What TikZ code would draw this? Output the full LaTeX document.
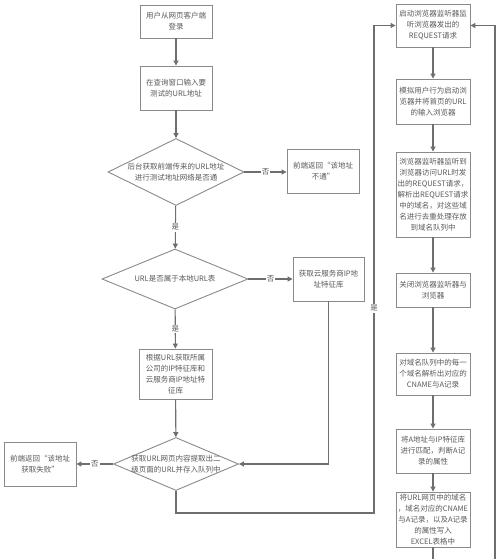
\documentclass[tikz,border=0pt]{standalone}
\usepackage{fontspec}
\setmainfont{Noto Sans CJK SC}
\usetikzlibrary{shapes.geometric,arrows.meta}
\definecolor{linec}{HTML}{6E6E6E}
\definecolor{boxc}{HTML}{8A8A8A}
\definecolor{txtc}{HTML}{5A5A5A}
\begin{document}
\begin{tikzpicture}[x=1pt,y=-1pt,
  every node/.style={font=\fontsize{7.5pt}{11pt}\selectfont, text=txtc},
  box/.style={draw=boxc, line width=0.9pt, rectangle, align=center, inner sep=1pt},
  dia/.style={draw=boxc, line width=0.9pt, diamond, inner sep=0pt},
  txt/.style={align=center, inner sep=0pt},
  lab/.style={fill=white, inner sep=1pt},
  conn/.style={draw=linec, line width=1.1pt},
  arr/.style={conn, -{Triangle[width=5pt,length=5pt]}}
]
\useasboundingbox[fill=white] (0,0) rectangle (500,559);
% left column
\node[box, minimum width=72pt, minimum height=33pt] (A) at (176,21.5) {用户从网页客户端\\登录};
\node[box, minimum width=72pt, minimum height=44pt] (B) at (176,88) {在查询窗口输入要\\测试的URL地址};
\node[dia, minimum width=136pt, minimum height=67pt] (D1) at (176,172) {};
\node[txt] (T1) at (D1) {后台获取前端传来的URL地址\\进行测试地址网络是否通};
\node[box, minimum width=72pt, minimum height=44pt] (C) at (323,171) {前端返回“该地址\\不通”};
\node[dia, minimum width=146pt, minimum height=60pt] (D2) at (175,279) {};
\node[txt] (T2) at (D2) {URL是否属于本地URL表};
\node[box, minimum width=71pt, minimum height=44pt] (D) at (328.5,279) {获取云服务商IP地\\址特征库};
\node[box, minimum width=73pt, minimum height=50pt] (E) at (175.5,374) {根据URL获取所属\\公司的IP特征库和\\云服务商IP地址特\\征库};
\node[dia, minimum width=125pt, minimum height=53pt] (D3) at (176,464) {};
\node[txt] (T3) at (D3) {获取URL网页内容提取出二\\级页面的URL并存入队列中};
\node[box, minimum width=72pt, minimum height=44pt] (F) at (40,464) {前端返回“该地址\\获取失败”};
% right column
\node[box, minimum width=74pt, minimum height=43pt] (R1) at (433,25.5) {启动浏览器监听器监\\听浏览器发出的\\REQUEST请求};
\node[box, minimum width=74pt, minimum height=45pt] (R2) at (433,101.5) {模拟用户行为启动浏\\览器并将首页的URL\\的输入浏览器};
\node[box, minimum width=74pt, minimum height=85pt] (R3) at (433,194.5) {浏览器监听器监听到\\浏览器访问URL时发\\出的REQUEST请求，\\解析出REQUEST请求\\中的域名，对这些域\\名进行去重处理存放\\到域名队列中};
\node[box, minimum width=74pt, minimum height=34pt] (R4) at (433,290) {关闭浏览器监听器与\\浏览器};
\node[box, minimum width=74pt, minimum height=42pt] (R5) at (433,374) {对域名队列中的每一\\个域名解析出对应的\\CNAME与A记录};
\node[box, minimum width=74pt, minimum height=44pt] (R6) at (433,451) {将A地址与IP特征库\\进行匹配，判断A记\\录的属性};
\node[box, minimum width=74pt, minimum height=55pt] (R7) at (433,519.5) {将URL网页中的域名\\，域名对应的CNAME\\与A记录，以及A记录\\的属性写入\\EXCEL表格中};
\coordinate (b1) at (176,513);
\coordinate (b2) at (374,513);
\coordinate (b3) at (374,25.5);
\coordinate (c1) at (433,575);
\coordinate (c2) at (495,575);
\coordinate (c3) at (495,25.5);
% connectors
\draw[arr] (A) -- (B);
\draw[arr] (B) -- (D1);
\draw[arr] (D1.east) -- node[lab]{否} (C.west |- D1.east);
\draw[arr] (D1) -- node[lab, pos=0.5]{是} (D2);
\draw[arr] (D2.east) -- node[lab]{否} (D.west);
\draw[arr] (D2) -- node[lab]{是} (E);
\draw[arr] (E) -- (D3);
\draw[arr] (D.south) |- (D3.east);
\draw[arr] (D3.west) -- node[lab]{否} (F.east);
\draw[arr] (D3.south) -- (b1) -- (b2) -- node[lab, pos=0.42]{是} (b3) -- (R1.west);
\draw[arr] (R1) -- (R2);
\draw[arr] (R2) -- (R3);
\draw[arr] (R3) -- (R4);
\draw[arr] (R4) -- (R5);
\draw[arr] (R5) -- (R6);
\draw[arr] (R6) -- (R7);
\draw[arr] (R7.south) -- (c1) -- (c2) -- (c3) -- (R1.east);
\end{tikzpicture}
\end{document}
